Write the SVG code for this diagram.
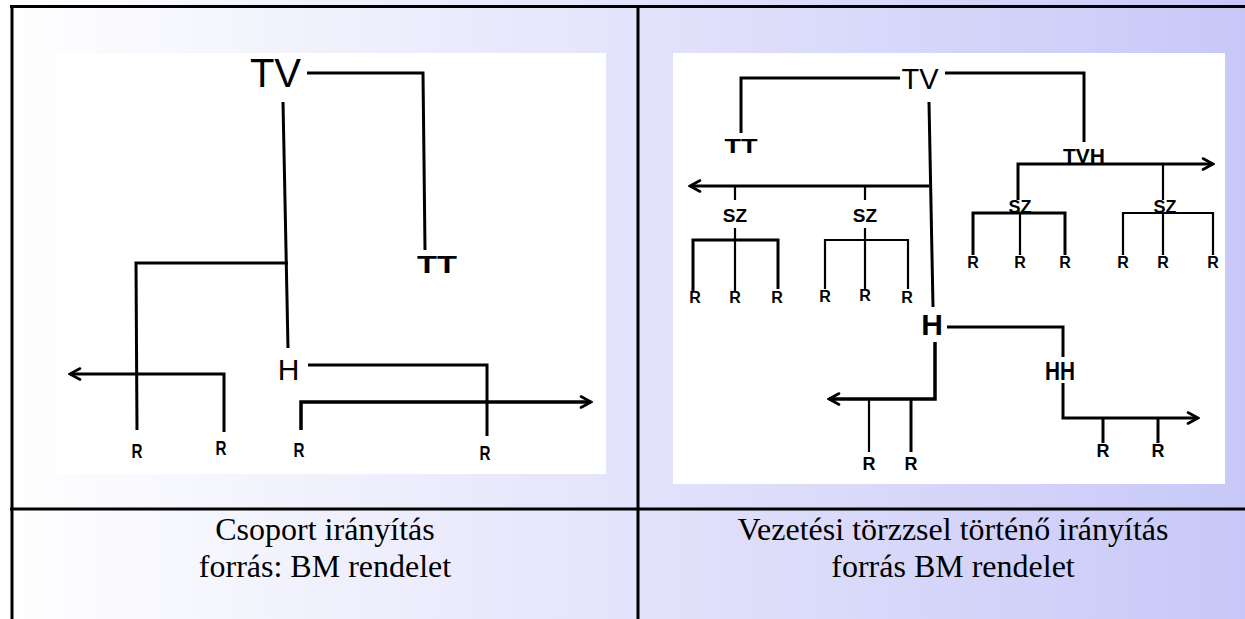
<svg xmlns="http://www.w3.org/2000/svg" width="1245" height="619" viewBox="0 0 1245 619">
<defs>
<linearGradient id="bg" x1="0" y1="0" x2="1245" y2="0" gradientUnits="userSpaceOnUse">
<stop offset="0" stop-color="#ffffff"/>
<stop offset="1" stop-color="#c8c8f8"/>
</linearGradient>
<marker id="arr" viewBox="0 0 14 14" refX="12" refY="7" markerWidth="14" markerHeight="14" markerUnits="userSpaceOnUse" orient="auto">
<path d="M2,1.5 L12,7 L2,12.5" fill="none" stroke="#000" stroke-width="2.6" stroke-linecap="round" stroke-linejoin="miter"/>
</marker>
<style>
.tbl{stroke:#000;stroke-width:3;fill:none}
.c{stroke:#000;stroke-width:3;fill:none;stroke-linejoin:miter}
.t{stroke:#000;stroke-width:2.2;fill:none}
.lab{font-family:"Liberation Sans",Arial,sans-serif;fill:#000;text-anchor:middle}
.b{font-weight:bold}
.cap{font-family:"Liberation Serif","Times New Roman",serif;font-size:32px;fill:#000;text-anchor:middle}
</style>
</defs>
<rect x="0" y="0" width="1245" height="619" fill="url(#bg)"/>
<!-- picture backgrounds -->
<rect x="57" y="53" width="549" height="421" fill="#ffffff"/>
<rect x="673" y="53" width="552" height="431" fill="#ffffff"/>
<!-- table grid -->
<g id="table">
<line class="tbl" x1="10" y1="6.5" x2="1245" y2="6.5"/>
<line class="tbl" x1="12" y1="5" x2="12" y2="619"/>
<line class="tbl" x1="638" y1="5" x2="638" y2="619"/>
<line class="tbl" x1="10" y1="509" x2="1245" y2="509"/>
</g>
<g id="connectors">
<!-- left diagram -->
<polyline class="c" points="307,73 423,73 425,250"/>
<polyline class="c" points="283,102 288,348"/>
<polyline class="c" points="288,263 136,263 137,430"/>
<polyline class="c" points="224,432 224,374 70,374" marker-end="url(#arr)"/>
<polyline class="c" points="308,365 487,365 487,436"/>
<polyline class="c" points="301,430 301,402 591,402" marker-end="url(#arr)" style="stroke-width:3.5"/>
<!-- right diagram -->
<polyline class="c" points="900,78 741,78 741,133"/>
<polyline class="c" points="945,73 1084,73 1084,142"/>
<polyline class="c" points="929,102 933,307"/>
<polyline class="c" points="929,186 690,186" marker-end="url(#arr)"/>
<line class="t" x1="735" y1="186" x2="735" y2="200"/>
<line class="t" x1="865" y1="186" x2="865" y2="200"/>
<line class="t" x1="735" y1="228" x2="735" y2="291"/>
<polyline class="c" points="693,291 693,240 778,240 778,289"/>
<line class="t" x1="865" y1="228" x2="865" y2="289"/>
<polyline class="t" points="825,289 825,240 908,240 908,289"/>
<polyline class="c" points="1018,200 1018,164 1213,164" marker-end="url(#arr)"/>
<line class="t" x1="1163" y1="164" x2="1163" y2="200"/>
<polyline class="c" points="973,255 973,213 1065,213 1065,255"/>
<line class="t" x1="1020" y1="213" x2="1020" y2="255"/>
<polyline class="t" points="1123,255 1123,213 1213,213 1213,255"/>
<line class="t" x1="1163" y1="213" x2="1163" y2="255"/>
<polyline class="c" points="947,327 1063,327 1063,357"/>
<polyline class="c" points="1063,383 1063,418 1198,418" marker-end="url(#arr)"/>
<line class="c" x1="1103" y1="418" x2="1103" y2="443"/>
<line class="c" x1="1158" y1="418" x2="1158" y2="443"/>
<polyline class="c" points="935,342 935,399 829,399" marker-end="url(#arr)" style="stroke-width:3.5"/>
<line class="t" x1="869" y1="399" x2="869" y2="452"/>
<line class="c" x1="911" y1="399" x2="911" y2="452"/>
</g>
<!-- left diagram nodes -->
<g id="l-tv"><text class="lab" x="275.5" y="87" font-size="40">TV</text></g>
<g id="l-tt"><text class="lab b" x="437" y="273" font-size="24" textLength="40" lengthAdjust="spacingAndGlyphs">TT</text></g>
<g id="l-h"><text class="lab" x="288.5" y="380" font-size="30">H</text></g>
<g id="l-r1"><text class="lab b" x="137" y="458" font-size="20" textLength="11" lengthAdjust="spacingAndGlyphs">R</text></g>
<g id="l-r2"><text class="lab b" x="221" y="455" font-size="20" textLength="11" lengthAdjust="spacingAndGlyphs">R</text></g>
<g id="l-r3"><text class="lab b" x="299" y="457" font-size="20" textLength="11" lengthAdjust="spacingAndGlyphs">R</text></g>
<g id="l-r4"><text class="lab b" x="485" y="460" font-size="20" textLength="11" lengthAdjust="spacingAndGlyphs">R</text></g>
<!-- right diagram nodes -->
<g id="r-tv"><text class="lab" x="920" y="89" font-size="29">TV</text></g>
<g id="r-tt"><text class="lab b" x="741" y="153" font-size="21" textLength="33" lengthAdjust="spacingAndGlyphs">TT</text></g>
<g id="r-sz1"><text class="lab b" x="735" y="222" font-size="19">SZ</text></g>
<g id="r-sz2"><text class="lab b" x="865" y="222" font-size="19">SZ</text></g>
<g id="r-tvh"><text class="lab b" x="1084" y="163" font-size="21">TVH</text></g>
<g id="r-sz3"><text class="lab b" x="1020" y="213" font-size="18">SZ</text></g>
<g id="r-sz4"><text class="lab b" x="1165" y="213" font-size="18">SZ</text></g>
<g id="r-r1"><text class="lab b" x="695" y="303" font-size="16">R</text></g>
<g id="r-r2"><text class="lab b" x="735" y="303" font-size="16">R</text></g>
<g id="r-r3"><text class="lab b" x="777" y="303" font-size="16">R</text></g>
<g id="r-r4"><text class="lab b" x="825" y="302" font-size="16">R</text></g>
<g id="r-r5"><text class="lab b" x="865" y="301" font-size="16">R</text></g>
<g id="r-r6"><text class="lab b" x="907" y="303" font-size="16">R</text></g>
<g id="r-r7"><text class="lab b" x="973" y="268" font-size="16">R</text></g>
<g id="r-r8"><text class="lab b" x="1020" y="268" font-size="16">R</text></g>
<g id="r-r9"><text class="lab b" x="1065" y="268" font-size="16">R</text></g>
<g id="r-r10"><text class="lab b" x="1123" y="268" font-size="16">R</text></g>
<g id="r-r11"><text class="lab b" x="1163" y="268" font-size="16">R</text></g>
<g id="r-r12"><text class="lab b" x="1213" y="268" font-size="16">R</text></g>
<g id="r-h"><text class="lab b" x="932" y="335" font-size="30">H</text></g>
<g id="r-hh"><text class="lab b" x="1060" y="380" font-size="26" textLength="30" lengthAdjust="spacingAndGlyphs">HH</text></g>
<g id="r-r13"><text class="lab b" x="869" y="470" font-size="18">R</text></g>
<g id="r-r14"><text class="lab b" x="911" y="470" font-size="18">R</text></g>
<g id="r-r15"><text class="lab b" x="1103" y="457" font-size="18">R</text></g>
<g id="r-r16"><text class="lab b" x="1158" y="457" font-size="18">R</text></g>
<!-- captions -->
<g id="cap-left">
<text class="cap" x="325" y="540">Csoport irányítás</text>
<text class="cap" x="325" y="577">forrás: BM rendelet</text>
</g>
<g id="cap-right">
<text class="cap" x="953" y="540">Vezetési törzzsel történő irányítás</text>
<text class="cap" x="953" y="577">forrás BM rendelet</text>
</g>
</svg>
